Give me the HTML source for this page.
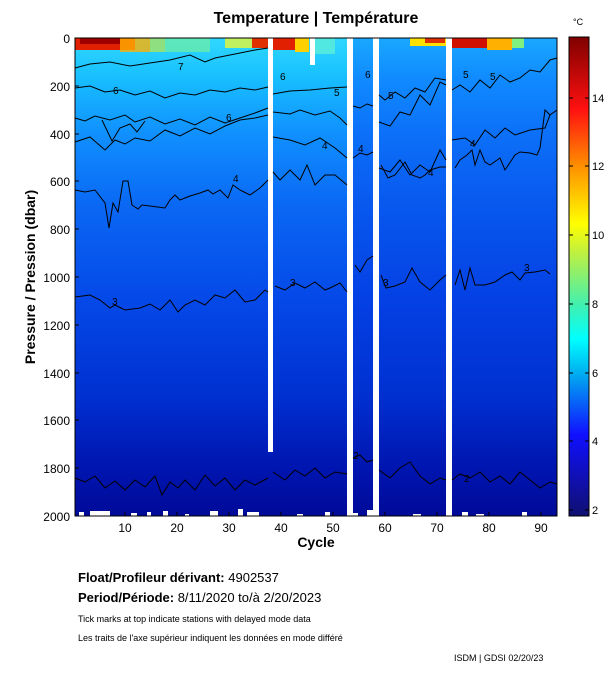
<!DOCTYPE html>
<html><head><meta charset="utf-8"><style>
body{margin:0;background:#fff;width:611px;height:675px;overflow:hidden;font-family:"Liberation Sans",sans-serif}
svg{position:absolute;left:0;top:0}
</style></head><body>
<svg width="611" height="675" viewBox="0 0 611 675" xmlns="http://www.w3.org/2000/svg" font-family="Liberation Sans, sans-serif">
<defs>
<linearGradient id="gA" x1="0" y1="0" x2="0" y2="1">
<stop offset="0" stop-color="#30d8ff"/>
<stop offset="0.08" stop-color="#18c0ff"/>
<stop offset="0.2" stop-color="#1090ff"/>
<stop offset="0.35" stop-color="#0a68f4"/>
<stop offset="0.55" stop-color="#0548e8"/>
<stop offset="0.75" stop-color="#0030d0"/>
<stop offset="0.9" stop-color="#0015b0"/>
<stop offset="1" stop-color="#000a98"/>
</linearGradient>
<linearGradient id="gB" x1="0" y1="0" x2="0" y2="1">
<stop offset="0" stop-color="#1aa8ff"/>
<stop offset="0.08" stop-color="#108cff"/>
<stop offset="0.2" stop-color="#0c70f8"/>
<stop offset="0.35" stop-color="#0858ee"/>
<stop offset="0.55" stop-color="#0440e4"/>
<stop offset="0.75" stop-color="#0030d0"/>
<stop offset="0.9" stop-color="#0015b0"/>
<stop offset="1" stop-color="#000a98"/>
</linearGradient>
<linearGradient id="cb" x1="0" y1="1" x2="0" y2="0">
<stop offset="0" stop-color="#101070"/>
<stop offset="0.17" stop-color="#1010ff"/>
<stop offset="0.3" stop-color="#00b0f0"/>
<stop offset="0.37" stop-color="#00ffff"/>
<stop offset="0.44" stop-color="#40f0b0"/>
<stop offset="0.55" stop-color="#c0f040"/>
<stop offset="0.61" stop-color="#ffff00"/>
<stop offset="0.73" stop-color="#ff9000"/>
<stop offset="0.85" stop-color="#ff1010"/>
<stop offset="1" stop-color="#800000"/>
</linearGradient>
</defs>
<text x="316" y="23" text-anchor="middle" font-size="16" font-weight="bold">Temperature | Température</text>
<!-- plot -->
<rect x="75" y="38" width="482" height="478" fill="url(#gA)"/>
<rect x="353" y="38" width="204" height="478" fill="url(#gB)"/>
<!-- warm surface -->
<rect x="75" y="38" width="60" height="12" fill="#e02000"/>
<rect x="80" y="38" width="40" height="6" fill="#a00000"/>
<rect x="120" y="38" width="45" height="14" fill="#ffb000" opacity="0.8"/>
<rect x="150" y="38" width="60" height="14" fill="#70f0a0" opacity="0.7"/>
<rect x="225" y="38" width="43" height="10" fill="#c0f060"/>
<rect x="252" y="38" width="16" height="10" fill="#e03000"/>
<rect x="273" y="38" width="22" height="12" fill="#e02000"/>
<rect x="295" y="38" width="14" height="14" fill="#ffd000"/>
<rect x="315" y="38" width="20" height="16" fill="#50e8e0"/>
<rect x="410" y="38" width="36" height="8" fill="#ffe000"/>
<rect x="425" y="38" width="20" height="5" fill="#e03000"/>
<rect x="452" y="38" width="35" height="10" fill="#d01000"/>
<rect x="487" y="38" width="25" height="12" fill="#ffb000"/>
<rect x="512" y="38" width="12" height="10" fill="#80f080"/>
<!-- gaps -->
<rect x="268" y="38" width="5" height="414" fill="#fff"/>
<rect x="310" y="38" width="5" height="27" fill="#fff"/>
<rect x="347" y="38" width="6" height="478" fill="#fff"/>
<rect x="373" y="38" width="6" height="478" fill="#fff"/>
<rect x="446" y="38" width="6" height="478" fill="#fff"/>
<!-- bottom white bits -->
<g fill="#fff">
<rect x="79" y="512" width="5" height="4"/><rect x="90" y="511" width="20" height="5"/><rect x="131" y="513" width="6" height="3"/><rect x="147" y="512" width="4" height="4"/><rect x="163" y="511" width="5" height="5"/><rect x="185" y="514" width="4" height="2"/><rect x="210" y="511" width="8" height="5"/><rect x="238" y="509" width="5" height="7"/><rect x="247" y="512" width="12" height="4"/><rect x="297" y="514" width="6" height="2"/><rect x="325" y="512" width="5" height="4"/><rect x="353" y="513" width="5" height="3"/><rect x="367" y="510" width="6" height="6"/><rect x="413" y="514" width="8" height="2"/><rect x="462" y="512" width="6" height="4"/><rect x="476" y="514" width="8" height="2"/><rect x="522" y="512" width="5" height="4"/>
</g>
<!-- contours -->
<g fill="none" stroke="#000" stroke-width="1">
<path d="M75,68 L90,64 110,62 130,66 150,63 170,60 190,55 205,62 215,58 230,55 240,53 255,50 268,48"/>
<path d="M75,88 L90,86 105,92 120,90 135,95 150,91 165,98 180,93 195,95 210,90 225,92 240,88 255,90 268,87"/>
<path d="M273,94 L290,91 310,90 330,88 347,87"/>
<path d="M75,118 L85,121 95,116 110,120 125,115 135,122 150,117 165,124 180,119 195,125 210,117 225,123 240,118 255,113 268,108"/>
<path d="M273,112 L290,114 300,110 315,115 330,111 340,118 347,125"/>
<path d="M353,106 L360,108 367,104 373,106"/>
<path d="M379,95 L385,100 395,92 405,98 415,88 425,92 435,78 446,80"/>
<path d="M379,122 L390,126 400,112 410,115 420,95 430,105 440,82 446,85"/>
<path d="M452,90 L460,85 470,92 480,80 490,88 500,75 510,82 520,78 530,70 540,72 550,60 557,58"/>
<path d="M75,142 L90,137 105,150 115,140 125,144 135,138 150,141 165,130 180,136 195,128 210,134 225,126 240,120 255,118 268,115"/>
<path d="M273,137 L290,140 305,145 320,138 335,148 347,158"/>
<path d="M379,168 L390,172 400,160 410,175 420,165 430,172 440,150 446,160"/>
<path d="M452,140 L465,138 475,145 485,130 495,138 505,128 515,135 530,130 545,128 550,115 557,110"/>
<path d="M102,120 L112,141 120,128 130,124 137,132 145,121" />
<path d="M75,190 L85,192 95,190 105,203 109,228 113,203 118,212 123,181 128,181 132,205 138,209 142,205 150,206 165,208 170,200 175,195 180,200 190,196 200,193 208,190 213,194 220,190 228,198 233,185 240,190 250,195 260,188 268,180"/>
<path d="M273,172 L280,180 290,170 300,180 307,165 315,185 325,175 335,175 347,185"/>
<path d="M353,158 L360,153 367,155 373,152"/>
<path d="M381,165 L388,178 395,175 405,162 412,175 420,178 425,175 430,170 440,167 446,167"/>
<path d="M455,168 L460,160 467,155 472,150 475,165 480,150 485,162 490,165 500,158 505,170 515,155 520,152 530,153 537,155 540,148 545,110 550,115"/>
<path d="M75,297 L90,295 100,300 110,308 115,305 125,310 140,308 150,304 160,310 170,300 178,312 185,305 195,300 205,305 215,295 225,298 235,290 245,302 255,300 265,290 268,292"/>
<path d="M275,286 L285,290 295,283 305,288 315,282 325,290 330,288 340,283 347,292"/>
<path d="M355,265 L360,272 367,260 373,256"/>
<path d="M381,275 L386,288 395,286 405,282 412,268 420,282 430,290 440,280 446,275"/>
<path d="M455,285 L460,270 465,290 470,268 475,285 485,285 495,282 505,275 512,272 520,280 525,273 535,272 545,270 550,274"/>
<path d="M75,478 L85,482 95,476 105,488 115,481 125,490 135,480 145,487 155,476 162,495 170,482 178,488 185,480 195,490 205,475 215,486 225,478 235,490 245,480 255,485 268,478"/>
<path d="M273,472 L285,480 295,470 305,476 315,468 325,478 335,472 347,474"/>
<path d="M353,458 L360,455 367,462 373,460"/>
<path d="M379,470 L390,478 400,468 410,462 420,476 430,484 440,478 446,480"/>
<path d="M452,480 L460,474 470,478 480,472 490,482 500,476 510,484 520,472 530,480 540,488 550,482 557,484"/>
</g>
<g font-size="10" fill="#000">
<text x="178" y="70">7</text><text x="113" y="94">6</text><text x="280" y="80">6</text><text x="365" y="78">6</text>
<text x="226" y="121">6</text><text x="334" y="96">5</text><text x="388" y="99">5</text><text x="463" y="78">5</text><text x="490" y="80">5</text>
<text x="233" y="182">4</text><text x="322" y="149">4</text><text x="358" y="152">4</text><text x="428" y="176">4</text><text x="470" y="147">4</text>
<text x="112" y="305">3</text><text x="290" y="286">3</text><text x="383" y="286">3</text><text x="524" y="271">3</text>
<text x="353" y="459">2</text><text x="464" y="482">2</text>
</g>
<rect x="75" y="38" width="482" height="478" fill="none" stroke="#000" stroke-width="1"/>
<!-- ticks -->
<g stroke="#000">
<path d="M75,38h4M75,86h4M75,134h4M75,181h4M75,229h4M75,277h4M75,325h4M75,373h4M75,420h4M75,468h4M75,516h4"/>
<path d="M125,516v-4M177,516v-4M229,516v-4M281,516v-4M333,516v-4M385,516v-4M437,516v-4M489,516v-4M541,516v-4"/>
</g>
<g font-size="12" text-anchor="end">
<text x="70" y="43">0</text><text x="70" y="91">200</text><text x="70" y="139">400</text><text x="70" y="186">600</text><text x="70" y="234">800</text><text x="70" y="282">1000</text><text x="70" y="330">1200</text><text x="70" y="378">1400</text><text x="70" y="425">1600</text><text x="70" y="473">1800</text><text x="70" y="521">2000</text>
</g>
<g font-size="12" text-anchor="middle">
<text x="125" y="532">10</text><text x="177" y="532">20</text><text x="229" y="532">30</text><text x="281" y="532">40</text><text x="333" y="532">50</text><text x="385" y="532">60</text><text x="437" y="532">70</text><text x="489" y="532">80</text><text x="541" y="532">90</text>
</g>
<text x="316" y="547" text-anchor="middle" font-size="14" font-weight="bold">Cycle</text>
<text transform="translate(35,277) rotate(-90)" text-anchor="middle" font-size="14" font-weight="bold">Pressure / Pression (dbar)</text>
<!-- colorbar -->
<rect x="569" y="37" width="20" height="479" fill="url(#cb)" stroke="#000"/>
<g stroke="#000"><path d="M569,98h4M585,98h4M569,166h4M585,166h4M569,235h4M585,235h4M569,304h4M585,304h4M569,373h4M585,373h4M569,441h4M585,441h4M569,510h4M585,510h4"/></g>
<g font-size="11"><text x="592" y="102">14</text><text x="592" y="170">12</text><text x="592" y="239">10</text><text x="592" y="308">8</text><text x="592" y="377">6</text><text x="592" y="445">4</text><text x="592" y="514">2</text></g>
<text x="573" y="25" font-size="9">°C</text>
<!-- footer -->
<text x="78" y="582" font-size="13"><tspan font-weight="bold">Float/Profileur dérivant:</tspan> 4902537</text>
<text x="78" y="602" font-size="13"><tspan font-weight="bold">Period/Période:</tspan> 8/11/2020  to/à  2/20/2023</text>
<text x="78" y="622" font-size="9">Tick marks at top indicate stations with delayed mode data</text>
<text x="78" y="641" font-size="9">Les traits de l'axe supérieur indiquent les données en mode différé</text>
<text x="454" y="661" font-size="9">ISDM | GDSI  02/20/23</text>
</svg>
</body></html>
